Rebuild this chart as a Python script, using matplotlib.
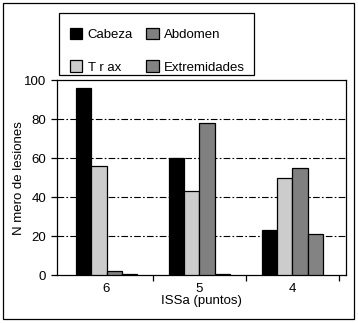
import numpy as np
import matplotlib.pyplot as plt
from matplotlib.patches import Rectangle

plt.rcParams['font.family'] = ['Liberation Sans', 'DejaVu Sans']
plt.rcParams['font.size'] = 9.5

groups = ['6', '5', '4']
series = ['Cabeza', 'T r ax', 'Abdomen', 'Extremidades']
cabeza = [96, 60, 23]
torax = [56, 43, 50]
abdomen = [2, 78, 55]
extremidades = [0.5, 0.5, 21]
colors = ['#000000', '#cccccc', '#808080', '#838383']

fig = plt.figure(figsize=(3.58, 3.23), dpi=100)
ax = fig.add_axes([0.158, 0.1486, 0.808, 0.603])

x = np.arange(len(groups))
w = 0.164
handles = []
for i, (vals, c) in enumerate(zip([cabeza, torax, abdomen, extremidades], colors)):
    b = ax.bar(x + (i - 1.5) * w, vals, w, color=c, edgecolor='black',
               linewidth=0.9, zorder=3, label=series[i])
    handles.append(b)

# dash-dot grid lines
for yv in [20, 40, 60, 80]:
    ax.axhline(yv, color='black', lw=0.8, ls=(0, (6, 2, 1.5, 2)), zorder=1)

ax.set_xlim(-0.538, 2.575)
ax.set_ylim(0, 100)
ax.set_yticks([0, 20, 40, 60, 80, 100])
ax.set_xticks([0.5, 1.5, 2.5])
ax.set_xticklabels([])
ax.set_xticks(x, minor=True)
ax.set_xticklabels(groups, minor=True)
ax.tick_params(axis='x', which='minor', length=0, pad=6)
ax.tick_params(axis='both', which='major', length=4, width=0.9, direction='out')
for s in ax.spines.values():
    s.set_linewidth(0.9)

ax.set_ylabel('N mero de lesiones', labelpad=-1)
ax.set_xlabel('ISSa (puntos)', labelpad=0)

# legend: entries in a box above the axes
leg = fig.legend(handles, series,
                 ncol=2, frameon=False, loc='upper left',
                 bbox_to_anchor=(0.195, 0.913), handlelength=0.95,
                 handleheight=0.95, handletextpad=0.4, columnspacing=1.0,
                 labelspacing=1.45, borderpad=0, borderaxespad=0)
fig.add_artist(Rectangle((59 / 358, 1 - 75 / 323), 195 / 358, 62 / 323,
                         transform=fig.transFigure, fill=False,
                         edgecolor='black', lw=0.9))
# outer border
fig.add_artist(Rectangle((3 / 358, 1 - 319 / 323), 351 / 358, 316 / 323,
                         transform=fig.transFigure, fill=False,
                         edgecolor='black', lw=0.9))

fig.savefig('out.png', dpi=100)
